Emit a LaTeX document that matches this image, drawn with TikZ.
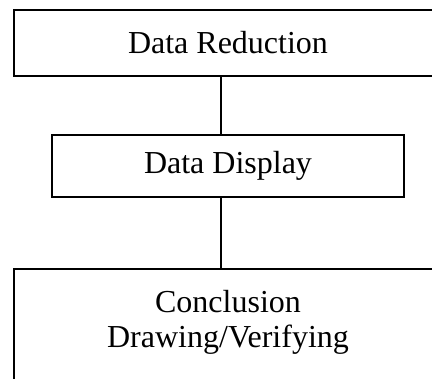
\documentclass[tikz,border=0pt]{standalone}
\usepackage{fontspec}
\setmainfont{Liberation Serif}
\usepackage{tikz}
\usetikzlibrary{calc, positioning}

\begin{document}
\begin{tikzpicture}[x=1pt, y=-1pt, font=\fontsize{32}{35}\selectfont]
\tikzstyle{stage} = [draw=black, rectangle, line width=2pt, inner sep=0pt, align=center]
\tikzstyle{link} = [draw=black, line width=1.1pt]

\useasboundingbox (0, 0) rectangle (432, 379);
\clip (0, 0) rectangle (432, 379);

\node[stage, minimum width=428pt, minimum height=66pt]	at (228, 43)	(reduce)	{Data Reduction};
\node[stage, minimum width=352pt, minimum height=62pt]	at (228, 166)	(display)	{Data Display};
\node[stage, anchor=north, minimum width=428pt, minimum height=160pt,
      label={[name=concl, align=center, anchor=north, yshift=-18.5pt]north:Conclusion\\Drawing/Verifying}]
                                                        at (228, 268.5)	(conclude)	{};
\coordinate (spine) at (221, 0);

\path[link]
(reduce.south -| spine)		--	(display.north -| spine)
(display.south -| spine)	--	(conclude.north -| spine);
\end{tikzpicture}
\end{document}
